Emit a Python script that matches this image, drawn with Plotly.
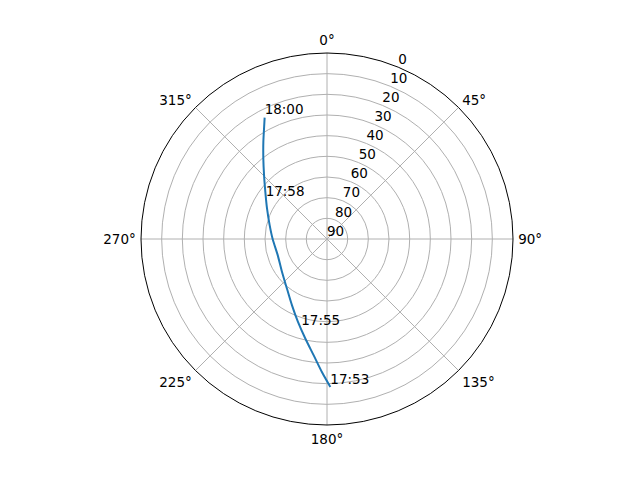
import plotly.graph_objects as go

# satellite pass track (azimuth deg, elevation deg), 17:53 -> 18:00
track_az = [178.7, 182.2, 186.5, 192.2, 199.3, 207.8, 218.8, 233.7, 251.6,
            270.0, 283.4, 296.8, 307.3, 315.3, 321.6, 326.7, 330.3, 332.8]
track_el = [18.4, 25.6, 33.3, 40.6, 47.5, 53.7, 59.1, 63.0, 64.9,
            63.7, 61.5, 57.5, 52.5, 46.7, 40.4, 33.9, 28.5, 24.0]

# time labels along the pass
label_text = ["17:53", "17:55", "17:58", "18:00"]
label_az = [178.7, 196.0, 303.0, 332.8]
label_el = [18.4, 44.8, 54.6, 24.0]

az_ticks = [0, 45, 90, 135, 180, 225, 270, 315]
el_ticks = [0, 10, 20, 30, 40, 50, 60, 70, 80, 90]
el_label_az = 22.5

font = dict(family="DejaVu Sans", size=13.5, color="black")

fig = go.Figure()
fig.add_trace(go.Scatterpolar(
    r=track_el, theta=track_az, mode="lines",
    line=dict(color="#1f77b4", width=2, shape="spline", smoothing=0.8),
    showlegend=False, hoverinfo="skip"))
fig.add_trace(go.Scatterpolar(
    r=label_el, theta=label_az, mode="text", text=label_text,
    textposition="top right", textfont=font,
    showlegend=False, hoverinfo="skip"))
# radial (elevation) labels drawn like matplotlib's at 22.5 deg
fig.add_trace(go.Scatterpolar(
    r=el_ticks, theta=[el_label_az] * len(el_ticks), mode="text",
    text=[str(v) for v in el_ticks],
    textposition="top right", textfont=font,
    showlegend=False, hoverinfo="skip", cliponaxis=False))

fig.update_layout(
    width=640, height=480,
    paper_bgcolor="white",
    font=font,
    margin=dict(l=133, r=135, t=45, b=63),
    polar=dict(
        bgcolor="white",
        angularaxis=dict(
            rotation=90, direction="clockwise",
            tickmode="array", tickvals=az_ticks,
            ticktext=[f"{a}°" for a in az_ticks],
            showline=True, linecolor="black", linewidth=1,
            gridcolor="#b0b0b0", gridwidth=1,
            ticks="outside", ticklen=2, tickcolor="rgba(0,0,0,0)",
        ),
        radialaxis=dict(
            range=[90, 0],
            tickmode="array", tickvals=el_ticks,
            showticklabels=False,
            showline=False, ticks="",
            gridcolor="#b0b0b0", gridwidth=1,
        ),
    ),
)

fig.write_html("out.html")
